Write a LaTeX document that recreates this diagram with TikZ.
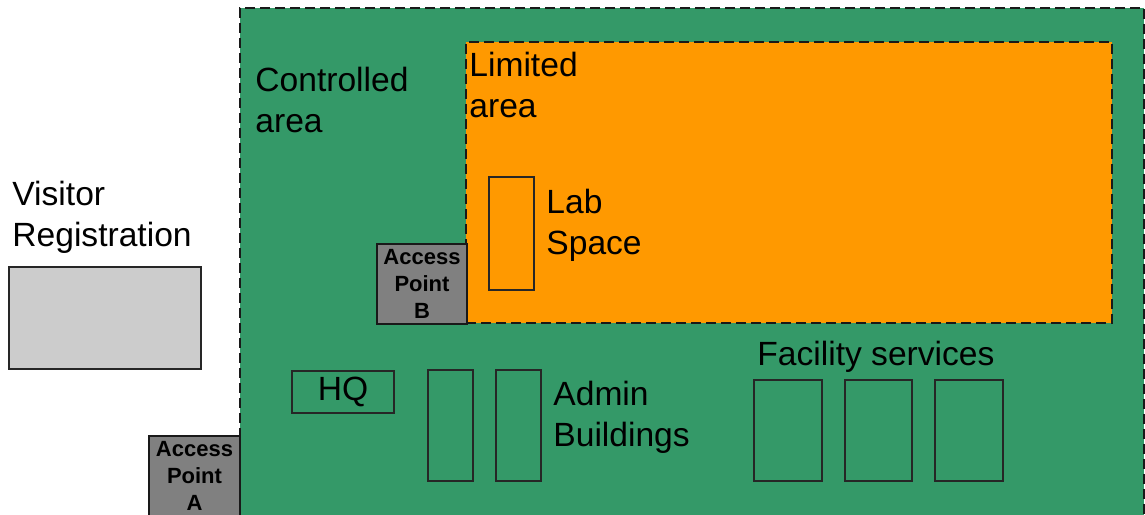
\documentclass[tikz,border=0pt]{standalone}
\usepackage{fontspec}
\setmainfont{Liberation Sans}
\usetikzlibrary{positioning}
\definecolor{ctrlgreen}{RGB}{52,153,104}
\definecolor{limorange}{RGB}{255,153,0}
\definecolor{apgray}{RGB}{128,128,128}
\definecolor{reggray}{RGB}{204,204,204}
\tikzstyle{zone} = [rectangle, draw=black!90, line width=0.8pt, dash pattern=on 5pt off 2.5pt, inner sep=0pt]
\tikzstyle{building} = [rectangle, draw=black!85, line width=0.7pt, inner sep=0pt]
\tikzstyle{access} = [rectangle, draw=black!90, line width=0.7pt, fill=apgray, inner sep=0pt, align=center, font=\bfseries\fontsize{11}{13.3}\selectfont]
\tikzstyle{areatext} = [anchor=north west, inner sep=0pt, align=left, font=\fontsize{16.8}{20.5}\selectfont]

\begin{document}
\begin{tikzpicture}[x=0.5pt, y=-0.5pt]
      \clip (0,0) rectangle (1145,514);
      \fill[white] (0,0) rectangle (1145,514);

      % zones
      \node (ctrl) [zone, fill=ctrlgreen, minimum width=452pt, minimum height=266pt] at (692,274) {};
      \node (lim) [zone, fill=limorange, minimum width=323pt, minimum height=140.5pt] at (789,182.5) {};

      % access points
      \node (apb) [access, minimum width=45pt, minimum height=40pt] at (422,284) {Access\\Point\\B};
      \node (apa) [access, minimum width=45.5pt, minimum height=40pt] at (194.5,476) {Access\\Point\\A};

      % visitor registration
      \node (reg) [building, fill=reggray, minimum width=96pt, minimum height=51pt] at (105,318) {};

      % buildings
      \node (lab) [building, minimum width=22.5pt, minimum height=56.5pt] at (511.5,233.5) {};
      \node (hq) [building, minimum width=51pt, minimum height=21pt, font=\fontsize{16.8}{20.5}\selectfont] at (343,392) {HQ};
      \node (adm1) [building, minimum width=22.5pt, minimum height=55.5pt] at (450.5,425.5) {};
      \node (adm2) [building, minimum width=22.5pt, minimum height=55.5pt] at (518.5,425.5) {};
      \node (fac1) [building, minimum width=34pt, minimum height=50.5pt] at (788,430.5) {};
      \node (fac2) [building, minimum width=33.5pt, minimum height=50.5pt] at (878.5,430.5) {};
      \node (fac3) [building, minimum width=34pt, minimum height=50.5pt] at (969,430.5) {};

      % labels
      \node (ctrltxt) [areatext] at (255,67) {Controlled\\area};
      \node (limtxt) [areatext] at (469,52) {Limited\\area};
      \node (regtxt) [areatext] at (12,181) {Visitor\\Registration};
      \node (labtxt) [areatext] at (546,189) {Lab\\Space};
      \node (admtxt) [areatext] at (553,381) {Admin\\Buildings};
      \node (factxt) [areatext] at (757,341) {Facility services};
\end{tikzpicture}
\end{document}
